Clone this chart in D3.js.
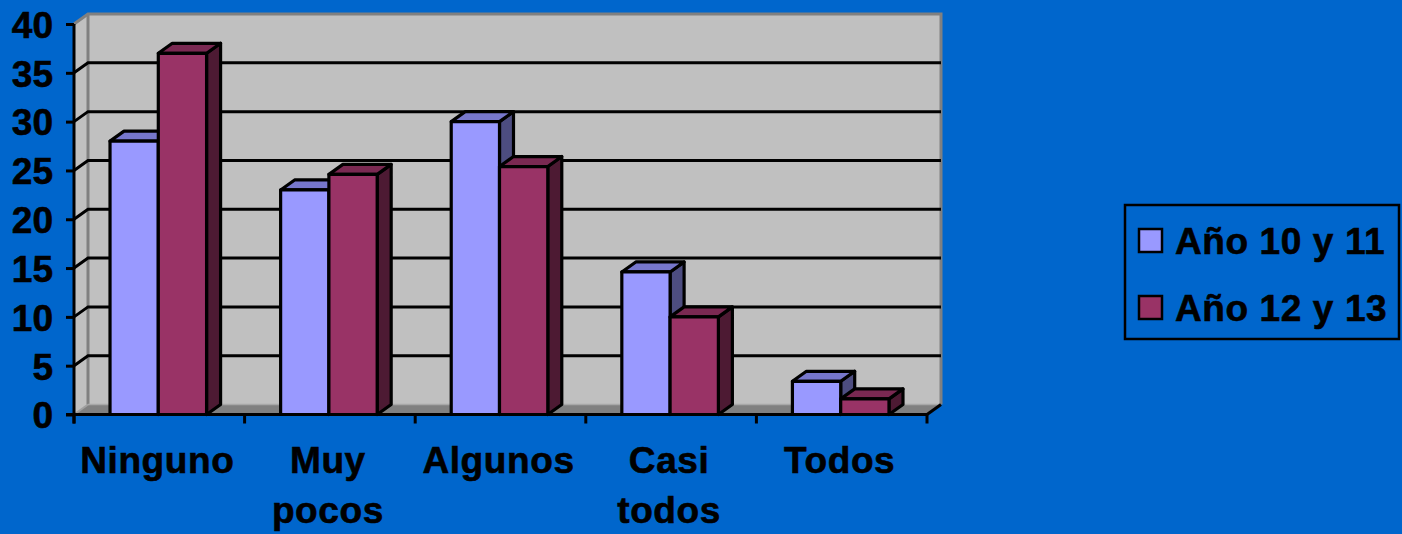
<!DOCTYPE html>
<html>
<head>
<meta charset="utf-8">
<script src="https://cdn.jsdelivr.net/npm/d3@7"></script>
<style>
  html, body { margin: 0; padding: 0; background: #0066CC; }
  svg { display: block; }
  text { font-family: "Liberation Sans", Arial, sans-serif; font-weight: bold; fill: #000; stroke: #000; stroke-width: 0.6px; }
</style>
</head>
<body>
<script>
const categories = ["Ninguno", "Muy pocos", "Algunos", "Casi todos", "Todos"];
const seriesNames = ["Año 10 y 11", "Año 12 y 13"];
const serie1 = [28, 23, 30, 14.6, 3.4];
const serie2 = [37, 24.6, 25.4, 10, 1.6];
const yTicks = [0, 5, 10, 15, 20, 25, 30, 35, 40];

const W = 1402, H = 534;
const svg = d3.select("body").append("svg").attr("width", W).attr("height", H);
svg.append("rect").attr("width", W).attr("height", H).attr("fill", "#0066CC");

const DX = 14, DY = -10;
const y = d3.scaleLinear().domain([0, 40]).range([414.5, 24]);
const x = d3.scaleBand().domain(categories).range([74, 927]).padding(0);
const groupW = x.bandwidth() * 0.566;
const xs = d3.scaleBand().domain([0, 1]).range([0, groupW]).padding(0);

const colors = [
  { front: "#9999FF", top: "#7777CC", side: "#4D4D80" },
  { front: "#993366", top: "#7A2952", side: "#4D1A33" }
];

const x0 = x.range()[0], x1 = x.range()[1];
const yb = v => y(v) + DY;

// side wall
svg.append("polygon")
  .attr("points", [[x0, y(40)], [x0 + DX, yb(40)], [x0 + DX, yb(0)], [x0, y(0)]].map(p => p.join(",")).join(" "))
  .attr("fill", "#C0C0C0");
// back wall
svg.append("rect")
  .attr("x", x0 + DX).attr("y", yb(40))
  .attr("width", x1 - x0).attr("height", yb(0) - yb(40))
  .attr("fill", "#C0C0C0");
// floor
svg.append("polygon")
  .attr("points", [[x0, y(0)], [x0 + DX, yb(0)], [x1 + DX, yb(0)], [x1, y(0)]].map(p => p.join(",")).join(" "))
  .attr("fill", "#808080");
// wall edges (gray)
svg.append("path")
  .attr("d", `M${x0},${y(40)}L${x0 + DX},${yb(40)}L${x1 + DX},${yb(40)}L${x1 + DX},${yb(0)}`)
  .attr("fill", "none").attr("stroke", "#808080").attr("stroke-width", 3);
svg.append("line")
  .attr("x1", x0 + DX).attr("x2", x0 + DX).attr("y1", yb(40)).attr("y2", yb(0))
  .attr("stroke", "#808080").attr("stroke-width", 3);
svg.append("line")
  .attr("x1", x0).attr("y1", y(0)).attr("x2", x0 + DX).attr("y2", yb(0))
  .attr("stroke", "#A0A0A0").attr("stroke-width", 2);
svg.append("line")
  .attr("x1", x0 + DX).attr("y1", yb(0)).attr("x2", x1 + DX).attr("y2", yb(0))
  .attr("stroke", "#A8A8A8").attr("stroke-width", 1.5);

// gridlines
const grid = svg.append("g");
yTicks.filter(t => t > 0 && t < 40).forEach(t => {
  grid.append("path")
    .attr("d", `M${x0},${y(t)}L${x0 + DX},${yb(t)}L${x1 + DX},${yb(t)}`)
    .attr("fill", "none").attr("stroke", "#000").attr("stroke-width", 3);
});
// floor right edge
svg.append("line")
  .attr("x1", x1).attr("y1", y(0)).attr("x2", x1 + DX).attr("y2", yb(0))
  .attr("stroke", "#000").attr("stroke-width", 3);

// bars
const barsG = svg.append("g");
categories.forEach((c, i) => {
  const cx = x(c) + x.bandwidth() / 2 - groupW / 2 - 1;
  [serie1[i], serie2[i]].forEach((v, s) => {
    const col = colors[s];
    const bx = cx + xs(s), bw = xs.bandwidth();
    const yt = y(v), y0 = y(0);
    const g = barsG.append("g").attr("stroke", "#000").attr("stroke-width", 3.2).attr("stroke-linejoin", "round");
    g.append("polygon")
      .attr("points", [[bx + bw, yt], [bx + bw + DX, yt + DY], [bx + bw + DX, y0 + DY], [bx + bw, y0]].map(p => p.join(",")).join(" "))
      .attr("fill", col.side);
    g.append("polygon")
      .attr("points", [[bx, yt], [bx + DX, yt + DY], [bx + bw + DX, yt + DY], [bx + bw, yt]].map(p => p.join(",")).join(" "))
      .attr("fill", col.top);
    g.append("rect")
      .attr("x", bx).attr("y", yt).attr("width", bw).attr("height", y0 - yt)
      .attr("fill", col.front);
  });
});

// y axis
const yAxis = d3.axisLeft(y).tickValues(yTicks).tickSize(8).tickPadding(13).tickFormat(d3.format("d"));
const ya = svg.append("g").attr("transform", `translate(${x0},0)`).call(yAxis);
ya.select(".domain").attr("stroke", "#000").attr("stroke-width", 3).attr("d", `M0,${y(40)}V${y(0) + 9}`);
ya.selectAll(".tick line").attr("stroke", "#000").attr("stroke-width", 3);
ya.selectAll(".tick text").attr("font-size", 37).attr("font-family", "Liberation Sans, Arial, sans-serif")
  .attr("font-weight", "bold").attr("fill", "#000").attr("dy", "0.36em");

// x axis
svg.append("line")
  .attr("x1", x0 - 8).attr("x2", x1).attr("y1", y(0)).attr("y2", y(0))
  .attr("stroke", "#000").attr("stroke-width", 3);
const bounds = categories.map(c => x(c)).concat([x1]);
svg.append("g").selectAll("line").data(bounds).join("line")
  .attr("x1", d => d).attr("x2", d => d).attr("y1", y(0)).attr("y2", y(0) + 9)
  .attr("stroke", "#000").attr("stroke-width", 3);

const labG = svg.append("g");
categories.forEach(c => {
  const words = c.split(" ");
  const t = labG.append("text")
    .attr("x", x(c) + x.bandwidth() / 2 - 2)
    .attr("y", 473)
    .attr("text-anchor", "middle")
    .attr("font-size", 37)
    .attr("letter-spacing", 0.6);
  words.forEach((w, k) => {
    t.append("tspan").attr("x", x(c) + x.bandwidth() / 2 - 2).attr("dy", k === 0 ? 0 : 50).text(w);
  });
});

// legend
const lg = svg.append("g");
lg.append("rect").attr("x", 1125).attr("y", 205).attr("width", 274).attr("height", 134)
  .attr("fill", "#0066CC").attr("stroke", "#000").attr("stroke-width", 2.5);
seriesNames.forEach((n, i) => {
  const yy = 241 + i * 67;
  lg.append("rect").attr("x", 1139).attr("y", yy - 12).attr("width", 23).attr("height", 23)
    .attr("fill", colors[i].front).attr("stroke", "#000").attr("stroke-width", 2.5);
  lg.append("text").attr("x", 1175).attr("y", yy).attr("dy", "0.36em")
    .attr("font-size", 37).attr("letter-spacing", 0.6).text(n);
});
</script>
</body>
</html>
